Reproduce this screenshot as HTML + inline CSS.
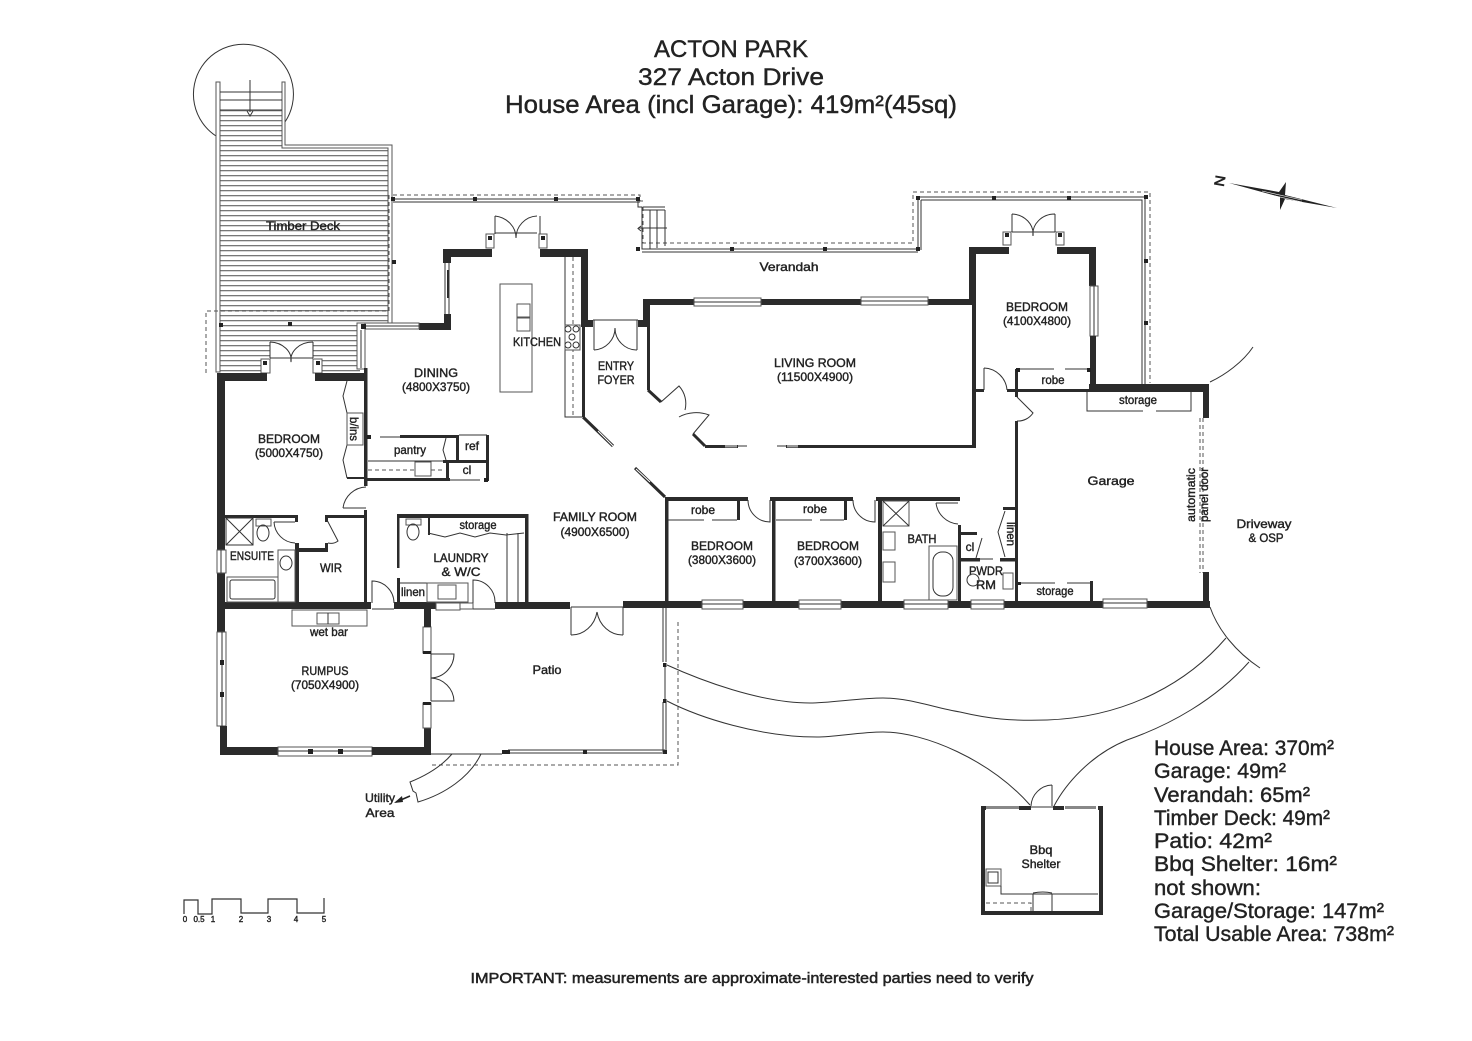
<!DOCTYPE html>
<html><head><meta charset="utf-8"><title>Acton Park floor plan</title>
<style>
html,body{margin:0;padding:0;background:#fff}
svg{display:block}
text{font-family:"Liberation Sans",sans-serif;fill:#222;text-anchor:middle;stroke:#222;stroke-width:.4}
.w{fill:#2b2b2b;stroke:none}
.t{fill:none;stroke:#333;stroke-width:1}
.g{fill:#fff;stroke:#555;stroke-width:1}
.d{fill:none;stroke:#555;stroke-width:1;stroke-dasharray:4 3}
.l{font-size:12px}
.a{text-anchor:start;font-size:21px}
.p{fill:#222;stroke:none}
</style></head><body>
<svg width="1472" height="1041" viewBox="0 0 1472 1041" xmlns="http://www.w3.org/2000/svg">
<defs><pattern id="h" width="6" height="5" patternUnits="userSpaceOnUse"><rect width="6" height="5" fill="#fff"/><rect y="0" width="6" height="1.3" fill="#777"/></pattern></defs>
<rect width="1472" height="1041" fill="#fff"/>

<!-- titles -->
<text x="731" y="57" font-size="24" textLength="154" lengthAdjust="spacingAndGlyphs">ACTON PARK</text>
<text x="731" y="85" font-size="24" textLength="186" lengthAdjust="spacingAndGlyphs">327 Acton Drive</text>
<text x="731" y="113" font-size="25" textLength="452" lengthAdjust="spacingAndGlyphs">House Area (incl Garage): 419m²(45sq)</text>

<!-- deck -->
<path d="M216 136A50 50 0 1 1 285 122" class="t"/>
<path d="M220 110H282V148H388V323H360V372H220Z" fill="url(#h)"/>
<rect x="270" y="342" width="43" height="32" fill="#fff"/>
<path d="M216 82H220V372H216ZM282 82H285V145H392V323H388V148H282Z" class="g"/>
<path d="M220 92H282M220 100H282M220 110H282" class="t"/>
<path d="M250 80V112M247 111L250 116L253 111" class="t"/>
<path d="M389 195V311H206V375" class="d" />
<rect x="357" y="323" width="8" height="46" class="g"/><path d="M361 330V368" class="t"/>
<text x="303" y="230" class="l" textLength="74" lengthAdjust="spacingAndGlyphs">Timber Deck</text>

<!-- French door timber deck -->
<path d="M270 342V358M313 342V358M270 358H313M270 342A22 18 0 0 1 291 362M313 342A22 18 0 0 0 291 362" class="t"/>
<rect x="261" y="359" width="9" height="14" class="g"/><rect x="313" y="359" width="9" height="14" class="g"/>
<rect x="263" y="361" width="4" height="4" class="p"/><rect x="316" y="361" width="4" height="4" class="p"/>
<rect x="219" y="323" width="4" height="4" class="p"/><rect x="288" y="322" width="4" height="4" class="p"/><rect x="392" y="260" width="4" height="4" class="p"/>

<!-- verandah rails -->
<path d="M393 195H640V201H644M643 207V243H913V192H1150V383" class="d"/>
<path d="M393 199H638V207H642V249H918V197H1145V384M393 202H640M642 252H918M921 200H1142V384M921 200V250" class="t"/>
<g class="p"><rect x="391" y="197" width="4" height="4"/><rect x="473" y="197" width="4" height="4"/><rect x="554" y="197" width="4" height="4"/><rect x="636" y="197" width="4" height="4"/><rect x="636" y="247" width="4" height="4"/><rect x="730" y="247" width="4" height="4"/><rect x="823" y="247" width="4" height="4"/><rect x="916" y="247" width="4" height="4"/><rect x="916" y="196" width="4" height="4"/><rect x="992" y="196" width="4" height="4"/><rect x="1067" y="196" width="4" height="4"/><rect x="1144" y="195" width="4" height="4"/><rect x="1144" y="259" width="4" height="4"/><rect x="1144" y="321" width="4" height="4"/></g>
<path d="M643 207H665M643 210H665M650 210V249M657 210V248M665 210V246M638 228H667" class="t"/>
<path d="M641 226L638 228.500L641 231" class="t"/>

<!-- upper walls -->
<rect x="443" y="249" width="49" height="8" class="w"/><rect x="443" y="249" width="8" height="14" class="w"/>
<path d="M445 263V314M449 263V314" class="t"/><rect x="447" y="270" width="1.500" height="28" class="w"/>
<rect x="444" y="314" width="7" height="16" class="w"/><rect x="419" y="323" width="32" height="7" class="w"/>
<rect x="365" y="323" width="54" height="6" class="g"/><path d="M365 326H419" class="t"/><rect x="361" y="324" width="5" height="5" class="p"/>
<rect x="540" y="249" width="48" height="8" class="w"/><rect x="581" y="249" width="7" height="78" class="w"/>
<rect x="582" y="327" width="3" height="90" class="w"/>
<path d="M583 417L613 446" stroke="#2b2b2b" stroke-width="3" fill="none"/><path d="M598 431L613 446" stroke="#fff" stroke-width="1" fill="none"/>

<!-- kitchen french door -->
<path d="M495 216V234M540 216V234M495 233H537M495 216A24 22 0 0 1 516 238M537 216A22 22 0 0 0 516 238" class="t"/>
<rect x="486" y="234" width="8" height="14" class="g"/><rect x="539" y="234" width="8" height="14" class="g"/>
<rect x="488" y="236" width="4" height="4" class="p"/><rect x="541" y="236" width="4" height="4" class="p"/>

<!-- kitchen -->
<rect x="500" y="284" width="32" height="108" class="g"/>
<rect x="517" y="304" width="13" height="13" class="g"/><rect x="517" y="318" width="13" height="13" class="g"/>
<path d="M565 257V417H582" class="t"/><path d="M573 257V417" class="d" stroke-dasharray="2 2"/>
<rect x="565" y="325" width="15" height="25" class="g"/>
<circle cx="568" cy="329" r="3" class="t"/><circle cx="576" cy="329" r="3" class="t"/><circle cx="572" cy="337" r="3" class="t"/><circle cx="568" cy="345" r="3" class="t"/><circle cx="576" cy="345" r="3" class="t"/>
<text x="537" y="346" class="l" textLength="48" lengthAdjust="spacingAndGlyphs">KITCHEN</text>
<text x="436" y="377" class="l" textLength="44" lengthAdjust="spacingAndGlyphs">DINING</text>
<text x="436" y="391" class="l" textLength="68" lengthAdjust="spacingAndGlyphs">(4800X3750)</text>

<!-- entry -->
<rect x="585" y="320" width="8" height="7" class="w"/><rect x="638" y="320" width="9" height="7" class="w"/>
<path d="M593 320H638M594 320V350M637 320V350M594 350A22 22 0 0 0 615 328M637 350A22 22 0 0 1 615 328" class="t"/>
<text x="616" y="370" class="l" textLength="36" lengthAdjust="spacingAndGlyphs">ENTRY</text>
<text x="616" y="384" class="l" textLength="37" lengthAdjust="spacingAndGlyphs">FOYER</text>

<!-- living room -->
<rect x="643" y="299" width="333" height="6" class="w"/><rect x="643" y="299" width="6" height="22" class="w"/>
<rect x="647" y="305" width="3" height="85" class="w"/>
<rect x="694" y="298" width="67" height="8" class="g"/><path d="M694 302H761" class="t"/>
<rect x="861" y="297" width="67" height="8" class="g"/><path d="M861 301H928" class="t"/>
<path d="M648 390L661 402M693 434L705 446" stroke="#2b2b2b" stroke-width="3" fill="none"/>
<path d="M661 402L679 386A26 26 0 0 1 685 410M693 434L709 415A30 24 0 0 0 679 417" class="t"/>
<rect x="705" y="445" width="33" height="3" class="w"/><rect x="725" y="445" width="12" height="2.500" fill="#999"/><path d="M738 446H747" class="t"/>
<rect x="786" y="445" width="190" height="3" class="w"/><rect x="787" y="445" width="11" height="2.500" fill="#999"/><path d="M777 446H786" class="t"/>
<rect x="972" y="247" width="4" height="200" class="w"/>
<text x="815" y="367" class="l" textLength="82" lengthAdjust="spacingAndGlyphs">LIVING ROOM</text>
<text x="815" y="381" class="l" textLength="76" lengthAdjust="spacingAndGlyphs">(11500X4900)</text>
<text x="789" y="271" class="l" textLength="59" lengthAdjust="spacingAndGlyphs">Verandah</text>

<!-- NE bedroom -->
<rect x="969" y="247" width="7" height="52" class="w"/><rect x="969" y="247" width="40" height="7" class="w"/><rect x="1057" y="247" width="39" height="7" class="w"/>
<rect x="1089" y="247" width="7" height="39" class="w"/><rect x="1090" y="286" width="8" height="50" class="g"/><path d="M1094 286V336" class="t"/><rect x="1090" y="336" width="6" height="50" class="w"/>
<path d="M1012 214V232M1055 214V232M1012 232H1055M1012 214A22 20 0 0 1 1033 236M1055 214A22 20 0 0 0 1033 236" class="t"/>
<rect x="1003" y="232" width="8" height="13" class="g"/><rect x="1056" y="232" width="8" height="13" class="g"/>
<rect x="1005" y="233" width="4" height="4" class="p"/><rect x="1058" y="233" width="4" height="4" class="p"/>
<text x="1037" y="311" class="l" textLength="62" lengthAdjust="spacingAndGlyphs">BEDROOM</text>
<text x="1037" y="325" class="l" textLength="68" lengthAdjust="spacingAndGlyphs">(4100X4800)</text>
<rect x="976" y="389" width="8" height="3" class="w"/><rect x="1007" y="389" width="85" height="3" class="w"/>
<path d="M984 368V390M984 368A24 24 0 0 1 1007 390" class="t"/>
<rect x="1015" y="369" width="3" height="28" class="w"/>
<path d="M1018 369H1054M1065 369H1087" class="t"/><rect x="1016" y="368" width="4" height="4" class="p"/><rect x="1087" y="368" width="4" height="4" class="p"/>
<text x="1053" y="384" class="l" font-size="11" textLength="23" lengthAdjust="spacingAndGlyphs">robe</text>

<!-- garage -->
<rect x="1089" y="384" width="120" height="8" class="w"/><rect x="1203" y="384" width="6" height="34" class="w"/>
<path d="M1210 382C1225 375 1243 362 1253 347" class="t"/>
<path d="M1087 392V411H1143M1156 411H1191V392" class="t"/>
<text x="1138" y="404" class="l" font-size="11" textLength="38" lengthAdjust="spacingAndGlyphs">storage</text>
<path d="M1017 397L1033 413A18 18 0 0 1 1017 421" class="t"/>
<rect x="1015" y="421" width="3" height="184" class="w"/>
<path d="M1200 418V573M1203 418V573" class="d" stroke-dasharray="4 2"/>
<rect x="1203" y="572" width="6" height="36" class="w"/>
<text x="1111" y="485" class="l" textLength="47" lengthAdjust="spacingAndGlyphs">Garage</text>
<text class="l" font-size="11" transform="translate(1195,495) rotate(-90)" textLength="54" lengthAdjust="spacingAndGlyphs">automatic</text>
<text class="l" font-size="11" transform="translate(1208,495) rotate(-90)" textLength="54" lengthAdjust="spacingAndGlyphs">panel door</text>
<path d="M1018 583H1055M1067 583H1091" class="t"/><rect x="1090" y="581" width="3" height="22" class="w"/><rect x="1018" y="582" width="3" height="3" class="p"/>
<text x="1055" y="595" class="l" font-size="11" textLength="37" lengthAdjust="spacingAndGlyphs">storage</text>

<!-- main south wall -->
<rect x="217" y="602" width="154" height="7" class="w"/><rect x="394" y="602" width="42" height="7" class="w"/>
<rect x="436" y="603" width="24" height="7" class="g"/><rect x="460" y="603" width="13" height="6" class="g"/>
<rect x="495" y="602" width="75" height="7" class="w"/><rect x="623" y="601" width="587" height="7" class="w"/>
<g class="g"><rect x="702" y="600" width="41" height="9"/><rect x="799" y="600" width="42" height="9"/><rect x="904" y="600" width="44" height="9"/><rect x="971" y="600" width="33" height="9"/><rect x="1103" y="599" width="44" height="9"/></g>
<path d="M702 604H743M799 604H841M904 604H948M971 604H1004M1103 603H1147" class="t"/>

<!-- lower bedrooms -->
<rect x="665" y="497" width="83" height="4" class="w"/><rect x="665" y="497" width="3.500" height="105" class="w"/>
<rect x="770" y="497" width="83" height="4" class="w"/><rect x="772" y="497" width="3.500" height="105" class="w"/>
<rect x="876" y="497" width="84" height="4" class="w"/><rect x="878" y="497" width="4" height="105" class="w"/>
<rect x="737" y="500" width="3" height="20" class="w"/><rect x="844" y="500" width="3" height="20" class="w"/>
<path d="M668 520H704M712 520H737M776 520H812M820 520H844" class="t"/>
<path d="M748 500A22 22 0 0 0 770 522V500M853 500A22 22 0 0 0 875 522V500" class="t"/>
<text x="703" y="514" class="l" font-size="11" textLength="24" lengthAdjust="spacingAndGlyphs">robe</text>
<text x="815" y="513" class="l" font-size="11" textLength="24" lengthAdjust="spacingAndGlyphs">robe</text>
<text x="722" y="550" class="l" textLength="62" lengthAdjust="spacingAndGlyphs">BEDROOM</text>
<text x="722" y="564" class="l" textLength="68" lengthAdjust="spacingAndGlyphs">(3800X3600)</text>
<text x="828" y="550" class="l" textLength="62" lengthAdjust="spacingAndGlyphs">BEDROOM</text>
<text x="828" y="565" class="l" textLength="68" lengthAdjust="spacingAndGlyphs">(3700X3600)</text>

<!-- bath -->
<rect x="883" y="501" width="26" height="25" class="g"/><path d="M883 501L909 526M909 501L883 526" class="t"/>
<rect x="883" y="532" width="12" height="18" class="g"/><rect x="883" y="562" width="12" height="20" class="g"/>
<path d="M936 503H958M936 503A24 24 0 0 0 958 524" class="t"/>
<rect x="958" y="525" width="3" height="77" class="w"/>
<text x="922" y="543" class="l" textLength="29" lengthAdjust="spacingAndGlyphs">BATH</text>
<rect x="929" y="546" width="28" height="54" class="g"/><rect x="933" y="552" width="20" height="44" rx="9" class="t"/>
<rect x="958" y="532" width="19" height="3" class="w"/><path d="M982 538L976 558" stroke="#333" fill="none"/>
<rect x="958" y="558" width="22" height="3.500" class="w"/><path d="M980 559H993" class="t"/><rect x="1000" y="558" width="16" height="3.500" class="w"/>
<text x="970" y="551" class="l" font-size="11">cl</text>
<rect x="1003" y="507" width="12" height="3" class="w"/><path d="M1005 511L998 532L1005 557" class="t"/>
<text class="l" font-size="11" transform="translate(1007,534) rotate(90)" textLength="24" lengthAdjust="spacingAndGlyphs">linen</text>
<text x="986" y="575" class="l" textLength="34" lengthAdjust="spacingAndGlyphs">PWDR</text>
<text x="986" y="589" class="l" textLength="20" lengthAdjust="spacingAndGlyphs">RM</text>
<circle cx="973" cy="580" r="6" class="t"/><rect x="1003" y="573" width="10" height="16" class="g"/>

<!-- family -->
<path d="M635 468L665 497" stroke="#2b2b2b" stroke-width="3" fill="none"/><path d="M636 469L650 482" stroke="#fff" stroke-width="1"/>
<text x="595" y="521" class="l" textLength="84" lengthAdjust="spacingAndGlyphs">FAMILY ROOM</text>
<text x="595" y="536" class="l" textLength="69" lengthAdjust="spacingAndGlyphs">(4900X6500)</text>

<!-- west bedroom -->
<rect x="217" y="373" width="50" height="8" class="w"/><rect x="315" y="373" width="52" height="8" class="w"/>
<rect x="217" y="373" width="8" height="177" class="w"/><rect x="217" y="573" width="8" height="59" class="w"/>
<rect x="217" y="550" width="9" height="23" class="g"/><path d="M221 550V573" class="t"/>
<rect x="364" y="368" width="3.500" height="118" class="w"/>
<rect x="364" y="510" width="3" height="95" class="w"/>
<path d="M347 381L343 396L347 413M347 445L343 460L347 478" class="t"/><rect x="347" y="413" width="16" height="32" class="g"/><path d="M347 478H364" stroke="#2b2b2b" stroke-width="2"/>
<text class="l" font-size="11" transform="translate(350,429) rotate(90)" textLength="24" lengthAdjust="spacingAndGlyphs">b/ins</text>
<path d="M343 508H366M343 508A24 24 0 0 1 366 487" class="t"/>
<text x="289" y="443" class="l" textLength="62" lengthAdjust="spacingAndGlyphs">BEDROOM</text>
<text x="289" y="457" class="l" textLength="68" lengthAdjust="spacingAndGlyphs">(5000X4750)</text>

<!-- ensuite / WIR -->
<rect x="225" y="515" width="73" height="3" class="w"/><rect x="295" y="515" width="3" height="7" class="w"/>
<rect x="325" y="515" width="42" height="3" class="w"/><rect x="325" y="515" width="3" height="7" class="w"/>
<rect x="295" y="543" width="4" height="60" class="w"/><rect x="295" y="548" width="33" height="4" class="w"/><rect x="325" y="543" width="3" height="9" class="w"/>
<path d="M226 518H253V545H226ZM226 518L253 545M253 518L226 545" class="t"/>
<rect x="256" y="519" width="15" height="7" class="g"/><ellipse cx="263" cy="533" rx="6" ry="8" class="t"/>
<path d="M274 522H295M274 522A22 22 0 0 0 295 543M327 520L338 541A12 12 0 0 1 328 543" class="t"/>
<rect x="278" y="550" width="17" height="52" class="g"/><ellipse cx="286" cy="563" rx="6" ry="7" class="t"/>
<rect x="227" y="577" width="51" height="25" class="g"/><rect x="230" y="580" width="45" height="19" rx="2" class="t"/>
<text x="252" y="560" class="l" textLength="44" lengthAdjust="spacingAndGlyphs">ENSUITE</text>
<text x="331" y="572" class="l" textLength="22" lengthAdjust="spacingAndGlyphs">WIR</text>

<!-- pantry -->
<rect x="400" y="435" width="59" height="3" class="w"/><path d="M380 437H400" class="t"/><rect x="367" y="435" width="4" height="4" class="p"/>
<rect x="456" y="436" width="3" height="24" class="w"/><rect x="443" y="460" width="46" height="3" class="w"/><rect x="486" y="435" width="3" height="46" class="w"/>
<path d="M459 435H487M446 438L443 450L446 460M368 461H443" class="t"/>
<rect x="367" y="478" width="83" height="3" class="w"/><rect x="446" y="462" width="3" height="18" class="w"/>
<path d="M450 480H480" class="t"/><rect x="484" y="478" width="4" height="4" class="p"/>
<path d="M368 470H445" class="d" stroke-dasharray="2 2"/><rect x="415" y="462" width="16" height="14" class="g"/>
<text x="410" y="454" class="l" font-size="11" textLength="32" lengthAdjust="spacingAndGlyphs">pantry</text>
<text x="472" y="450" class="l" font-size="11">ref</text>
<text x="467" y="474" class="l" font-size="11">cl</text>

<!-- laundry -->
<rect x="397" y="514" width="131" height="4" class="w"/><rect x="525" y="514" width="3.500" height="89" class="w"/>
<rect x="397" y="514" width="2.500" height="54" class="w"/><rect x="397" y="578" width="3" height="25" class="w"/>
<rect x="428" y="518" width="2" height="17" class="w"/><path d="M428 533L445 537L460 533L475 537L490 533L506 535L524 533M507 533V602M518 533V602" class="t"/>
<rect x="406" y="519" width="15" height="6" class="g"/><ellipse cx="413" cy="532" rx="6" ry="8" class="t"/>
<text x="478" y="529" class="l" font-size="11" textLength="37" lengthAdjust="spacingAndGlyphs">storage</text>
<text x="461" y="562" class="l" textLength="55" lengthAdjust="spacingAndGlyphs">LAUNDRY</text>
<text x="461" y="576" class="l" textLength="39" lengthAdjust="spacingAndGlyphs">&amp; W/C</text>
<path d="M400 583H427V602" class="t"/><text x="413" y="596" class="l" font-size="11" textLength="24" lengthAdjust="spacingAndGlyphs">linen</text>
<rect x="427" y="583" width="41" height="19" class="g"/><rect x="438" y="585" width="18" height="14" class="g"/>
<path d="M473 603V580A22 22 0 0 1 495 603M372 603V581A22 22 0 0 1 394 603M372 609H394M473 609H495" class="t"/>

<!-- patio doors -->
<path d="M571 607V635M623 607V635M571 607H623M571 635A26 28 0 0 0 597 612M623 635A26 28 0 0 1 597 612" class="t"/>

<!-- rumpus -->
<rect x="217" y="632" width="9" height="94" class="g"/><path d="M222 632V726" class="t"/>
<rect x="220" y="660" width="4" height="5" class="p"/><rect x="220" y="692" width="4" height="5" class="p"/>
<rect x="220" y="726" width="7" height="29" class="w"/><rect x="220" y="747" width="58" height="8" class="w"/>
<rect x="278" y="747" width="94" height="9" class="g"/><path d="M278 751H372" class="t"/>
<rect x="308" y="749" width="5" height="5" class="p"/><rect x="338" y="749" width="5" height="5" class="p"/>
<rect x="372" y="747" width="59" height="8" class="w"/><rect x="424" y="728" width="7" height="27" class="w"/>
<rect x="423" y="703" width="8" height="25" class="g"/><rect x="423" y="627" width="8" height="26" class="g"/><rect x="424" y="607" width="7" height="20" class="w"/>
<rect x="423" y="651" width="8" height="3" class="p"/><rect x="423" y="702" width="8" height="3" class="p"/>
<path d="M431 654V701M431 654H454A24 24 0 0 1 431 678M431 701H454A24 24 0 0 0 431 678" class="t"/>
<rect x="292" y="610" width="75" height="16" class="g"/><rect x="317" y="613" width="22" height="11" class="g"/><path d="M328 613V624" class="t"/>
<text x="329" y="636" class="l" font-size="11" textLength="38" lengthAdjust="spacingAndGlyphs">wet bar</text>
<text x="325" y="675" class="l" textLength="47" lengthAdjust="spacingAndGlyphs">RUMPUS</text>
<text x="325" y="689" class="l" textLength="68" lengthAdjust="spacingAndGlyphs">(7050X4900)</text>

<!-- patio -->
<text x="547" y="674" class="l" textLength="29" lengthAdjust="spacingAndGlyphs">Patio</text>
<path d="M663 608V662M666 608V662M665 664V700M663 702V752M666 702V752" class="t"/>
<rect x="663" y="663" width="3.500" height="4" class="p"/><rect x="663" y="699" width="3.500" height="4" class="p"/><rect x="663" y="750" width="4" height="4" class="p"/>
<path d="M431 754H502M508 750H665M510 753H665" class="t"/>
<rect x="502" y="750" width="8" height="4" class="p"/><rect x="583" y="750" width="4" height="4" class="p"/>
<path d="M678 622V765H431" class="d" stroke-dasharray="5 3"/>
<path d="M452 754C440 768 425 776 410 782L413 791L416 793L418 802C445 794 470 777 481 754" class="t"/>
<path d="M410 796L396 802" stroke="#222" stroke-width="1.500"/><path d="M394 803L402 796L403 802Z" class="p"/>
<text x="380" y="802" class="l" textLength="30" lengthAdjust="spacingAndGlyphs">Utility</text>
<text x="380" y="817" class="l" textLength="29" lengthAdjust="spacingAndGlyphs">Area</text>

<!-- driveway -->
<path d="M1210 607C1218 630 1236 652 1260 668" class="t"/>
<path d="M667 665C700 680 760 703 810 703C830 703 860 698 883 698C910 698 935 708 960 712C990 719 1010 721 1047 720C1130 717 1190 680 1226 638" class="t"/>
<path d="M1249 662C1215 700 1170 725 1127 740C1090 755 1065 785 1054 806" class="t"/>
<path d="M667 701C700 718 760 737 817 737C835 737 860 732 883 732C925 732 990 760 1030 805" class="t"/>
<text x="1264" y="528" class="l" textLength="55" lengthAdjust="spacingAndGlyphs">Driveway</text>
<text x="1266" y="542" class="l" textLength="35" lengthAdjust="spacingAndGlyphs">&amp; OSP</text>

<!-- bbq -->
<rect x="981" y="806" width="4" height="109" class="w"/><rect x="1099" y="806" width="4" height="109" class="w"/><rect x="981" y="911" width="122" height="4" class="w"/>
<rect x="981" y="806" width="5" height="4" class="w"/><rect x="1098" y="806" width="5" height="4" class="w"/>
<rect x="986" y="806" width="33" height="3" fill="#888"/><rect x="1065" y="806" width="31" height="3" fill="#888"/>
<rect x="1019" y="806" width="12" height="4" class="w"/><rect x="1053" y="806" width="11" height="4" class="w"/>
<path d="M1031 807H1053M1052 785V806M1052 785A22 22 0 0 0 1031 806" class="t"/>
<rect x="986" y="869" width="15" height="17" class="g"/><rect x="988" y="872" width="10" height="11" class="t"/>
<path d="M1001 886V894H1098M1033 894V911M1052 894V911M1033 893Q1043 891 1052 893" class="t"/>
<path d="M986 903H1031V911" class="d" stroke-dasharray="2 1"/>
<text x="1041" y="854" class="l" textLength="23" lengthAdjust="spacingAndGlyphs">Bbq</text>
<text x="1041" y="868" class="l" textLength="39" lengthAdjust="spacingAndGlyphs">Shelter</text>

<!-- compass -->
<path d="M1229 183L1279 192L1286 182L1285 195L1337 208L1285 199L1280 210L1280 197Z" class="p"/>
<path d="M1262 191L1302 200M1262 193L1302 202" stroke="#fff" stroke-width=".6" fill="none"/>
<text font-size="14" transform="translate(1215,180) rotate(100)" textLength="11" lengthAdjust="spacingAndGlyphs" style="stroke-width:.6">N</text>

<!-- scale -->
<path d="M184 914V900H198V914H212V899H241V913H268V899H297V913H324V898" fill="none" stroke="#333" stroke-width="1.200"/>
<g font-size="8"><text x="185" y="922">0</text><text x="199" y="922">0.5</text><text x="213" y="922">1</text><text x="241" y="922">2</text><text x="269" y="922">3</text><text x="296" y="922">4</text><text x="324" y="922">5</text></g>

<!-- areas -->
<g class="a">
<text class="a" x="1154" y="755" textLength="180" lengthAdjust="spacingAndGlyphs">House Area: 370m²</text>
<text class="a" x="1154" y="778" textLength="132" lengthAdjust="spacingAndGlyphs">Garage: 49m²</text>
<text class="a" x="1154" y="802" textLength="156" lengthAdjust="spacingAndGlyphs">Verandah: 65m²</text>
<text class="a" x="1154" y="825" textLength="176" lengthAdjust="spacingAndGlyphs">Timber Deck: 49m²</text>
<text class="a" x="1154" y="848" textLength="118" lengthAdjust="spacingAndGlyphs">Patio: 42m²</text>
<text class="a" x="1154" y="871" textLength="183" lengthAdjust="spacingAndGlyphs">Bbq Shelter: 16m²</text>
<text class="a" x="1154" y="895" textLength="107" lengthAdjust="spacingAndGlyphs">not shown:</text>
<text class="a" x="1154" y="918" textLength="230" lengthAdjust="spacingAndGlyphs">Garage/Storage: 147m²</text>
<text class="a" x="1154" y="941" textLength="240" lengthAdjust="spacingAndGlyphs">Total Usable Area: 738m²</text>
</g>
<text x="752" y="983" font-size="15" style="stroke-width:.5" textLength="563" lengthAdjust="spacingAndGlyphs">IMPORTANT: measurements are approximate-interested parties need to verify</text>
</svg>
</body></html>
